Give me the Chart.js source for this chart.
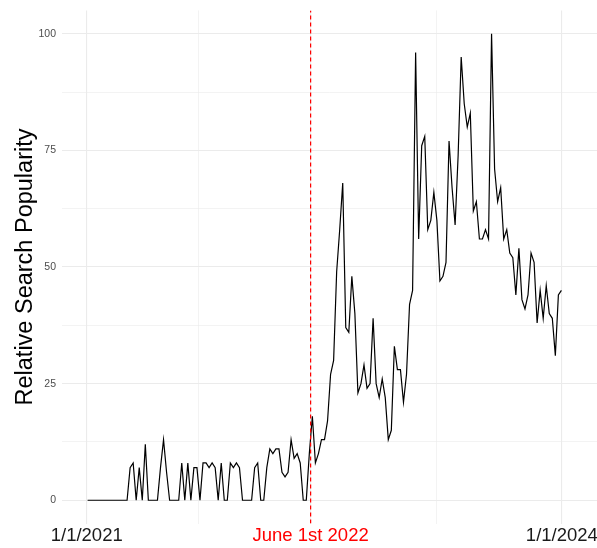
<!DOCTYPE html>
<html>
<head>
<meta charset="utf-8">
<script src="https://cdn.jsdelivr.net/npm/chart.js@4.4.1/dist/chart.umd.min.js"></script>
<style>
  html, body { margin: 0; padding: 0; background: #fff; }
  #wrap { width: 597px; height: 548px; position: relative; }
</style>
</head>
<body>
<div id="wrap"><canvas id="grafico"></canvas></div>
<script>
// weekly values, first week starts 3 Jan 2021 (day 2 counted from 1/1/2021)
const firstWeekDay = 2;
const popularity = [
  0, 0, 0, 0, 0, 0, 0, 0, 0, 0, 0, 0, 0, 0,
  7, 8, 0, 7, 0, 12, 0, 0, 0, 0, 7, 13, 6, 0, 0, 0,
  0, 8, 0, 8, 0, 7, 7, 0, 8, 8, 7, 8, 7, 0, 8, 0,
  0, 8, 7, 8, 7, 0, 0, 0, 0, 7, 8, 0, 0, 7, 11, 10,
  11, 11, 6, 5, 6, 13, 9, 10, 8, 0, 0, 10, 18, 8, 10, 13,
  13, 17, 27, 30, 49, 58, 68, 37, 36, 48, 40, 23, 25, 29, 24, 25,
  39, 25, 22, 26, 22, 13, 15, 33, 28, 28, 21, 27, 42, 45, 96, 56,
  76, 78, 58, 60, 66, 60, 47, 48, 51, 77, 67, 59, 74, 95, 85, 80,
  83, 62, 64, 56, 56, 58, 56, 100, 71, 64, 67, 56, 58, 53, 52, 44,
  54, 43, 41, 44, 53, 51, 38, 45, 39, 46, 40, 39, 31, 44, 45
];

// x axis: days since 1/1/2021
const xTickDays = [0, 516, 1095];
const xTickLabels = ['1/1/2021', 'June 1st 2022', '1/1/2024'];
const xMinorDays = [258, 805.5];
const markerDay = 516;

// y axis
const yTicks = [0, 25, 50, 75, 100];
const yMinor = [12.5, 37.5, 62.5, 87.5];

const puntos = popularity.map((v, i) => ({ x: firstWeekDay + 7 * i, y: v }));
const fuente = "'Liberation Sans', Arial, sans-serif";

const ctx = document.getElementById('grafico').getContext('2d');

new Chart(ctx, {
  type: 'line',
  data: {
    datasets: [
      {
        data: [{ x: markerDay, y: -5 }, { x: markerDay, y: 105 }],
        borderColor: '#ff0000',
        borderWidth: 1.2,
        borderDash: [4, 3],
        pointRadius: 0
      },
      {
        data: puntos,
        borderColor: '#000000',
        borderWidth: 1.2,
        pointRadius: 0,
        tension: 0
      }
    ]
  },
  options: {
    responsive: true,
    maintainAspectRatio: false,
    animation: false,
    layout: { padding: { top: 10.4, right: 0, bottom: 0, left: 0 } },
    plugins: {
      legend: { display: false },
      tooltip: { enabled: false }
    },
    scales: {
      x: {
        type: 'linear',
        min: -57,
        max: 1176,
        border: { display: false },
        grid: {
          drawTicks: false,
          color: '#ebebeb',
          lineWidth: c => xMinorDays.includes(c.tick.value) ? 0.6 : 1.1
        },
        afterBuildTicks: s => {
          s.ticks = [...xTickDays, ...xMinorDays].sort((a, b) => a - b).map(v => ({ value: v }));
        },
        afterFit: s => {
          s.height = 24.4;
          s.paddingLeft = 0;
          s.paddingRight = 0;
        },
        ticks: {
          autoSkip: false,
          maxRotation: 0,
          minRotation: 0,
          padding: 1,
          font: { family: fuente, size: 18.5 },
          color: c => c.tick.value === markerDay ? '#ff0000' : '#1a1a1a',
          callback: v => {
            const i = xTickDays.indexOf(v);
            return i >= 0 ? xTickLabels[i] : '';
          }
        }
      },
      y: {
        min: -5,
        max: 105,
        border: { display: false },
        grid: {
          drawTicks: false,
          color: '#ebebeb',
          lineWidth: c => yMinor.includes(c.tick.value) ? 0.6 : 1.1
        },
        afterBuildTicks: s => {
          s.ticks = [...yTicks, ...yMinor].sort((a, b) => a - b).map(v => ({ value: v }));
        },
        afterFit: s => {
          s.width = 62;
          s.paddingTop = 0;
          s.paddingBottom = 0;
        },
        ticks: {
          padding: 6,
          font: { family: fuente, size: 10.5 },
          color: '#4d4d4d',
          callback: v => yTicks.includes(v) ? String(v) : ''
        },
        title: {
          display: true,
          text: 'Relative Search Popularity',
          color: '#000000',
          font: { family: fuente, size: 23.5 },
          padding: { top: 11.5, bottom: 0 }
        }
      }
    }
  }
});
</script>
</body>
</html>
